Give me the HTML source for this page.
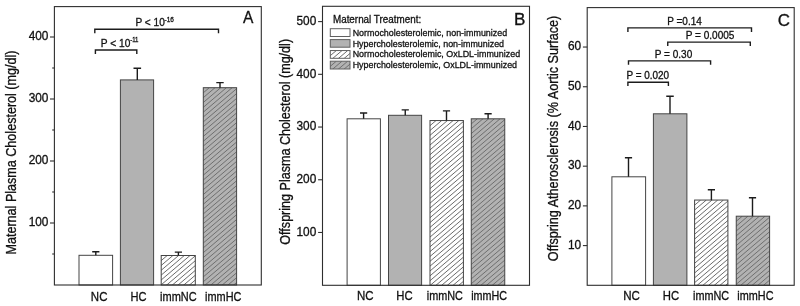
<!DOCTYPE html>
<html lang="en"><head><meta charset="utf-8"><title>Figure</title>
<style>html,body{margin:0;padding:0;background:#fff}svg{display:block}text{stroke:#111;stroke-width:.3px}</style></head>
<body>
<svg width="800" height="306" viewBox="0 0 800 306" font-family="'Liberation Sans', sans-serif" fill="#111">
<rect width="800" height="306" fill="#fff"/>
<g transform="translate(0,0.3)">
<rect x="79.00" y="255.00" width="33.60" height="29.70" fill="#fff" stroke="#444" stroke-width="1"/>
<rect x="120.40" y="79.60" width="33.20" height="205.10" fill="#b2b2b2" stroke="#444" stroke-width="1"/>
<rect x="161.20" y="255.20" width="34.10" height="29.50" fill="#fff"/>
<clipPath id="c1"><rect x="161.20" y="255.20" width="34.10" height="29.50"/></clipPath>
<path clip-path="url(#c1)" d="M167.20 255.20L160.20 261.15M172.90 255.20L160.20 266.00M178.60 255.20L160.20 270.84M184.30 255.20L160.20 275.68M190.00 255.20L160.20 280.53M195.70 255.20L160.20 285.37M196.30 259.53L160.20 290.22M196.30 264.38L160.20 295.06M196.30 269.22L160.20 299.91M196.30 274.07L160.20 304.75M196.30 278.91L160.20 309.60M196.30 283.76L160.20 314.44" stroke="#5a5a5a" stroke-width="0.9" fill="none"/>
<rect x="161.20" y="255.20" width="34.10" height="29.50" fill="none" stroke="#444" stroke-width="1"/>
<rect x="203.30" y="87.40" width="33.30" height="197.30" fill="#b2b2b2"/>
<clipPath id="c2"><rect x="203.30" y="87.40" width="33.30" height="197.30"/></clipPath>
<path clip-path="url(#c2)" d="M209.30 87.40L202.30 93.35M215.00 87.40L202.30 98.19M220.70 87.40L202.30 103.04M226.40 87.40L202.30 107.88M232.10 87.40L202.30 112.73M237.60 87.57L202.30 117.57M237.60 92.41L202.30 122.42M237.60 97.26L202.30 127.26M237.60 102.10L202.30 132.11M237.60 106.95L202.30 136.95M237.60 111.79L202.30 141.80M237.60 116.64L202.30 146.64M237.60 121.48L202.30 151.49M237.60 126.33L202.30 156.33M237.60 131.17L202.30 161.18M237.60 136.02L202.30 166.02M237.60 140.86L202.30 170.87M237.60 145.71L202.30 175.71M237.60 150.55L202.30 180.56M237.60 155.40L202.30 185.40M237.60 160.24L202.30 190.25M237.60 165.09L202.30 195.09M237.60 169.93L202.30 199.94M237.60 174.78L202.30 204.78M237.60 179.62L202.30 209.63M237.60 184.47L202.30 214.47M237.60 189.31L202.30 219.32M237.60 194.16L202.30 224.16M237.60 199.00L202.30 229.01M237.60 203.85L202.30 233.85M237.60 208.69L202.30 238.70M237.60 213.54L202.30 243.54M237.60 218.38L202.30 248.39M237.60 223.23L202.30 253.23M237.60 228.07L202.30 258.08M237.60 232.92L202.30 262.92M237.60 237.76L202.30 267.77M237.60 242.61L202.30 272.61M237.60 247.45L202.30 277.46M237.60 252.30L202.30 282.30M237.60 257.14L202.30 287.15M237.60 261.99L202.30 291.99M237.60 266.83L202.30 296.84M237.60 271.68L202.30 301.68M237.60 276.52L202.30 306.53M237.60 281.37L202.30 311.37" stroke="#686868" stroke-width="0.9" fill="none"/>
<rect x="203.30" y="87.40" width="33.30" height="197.30" fill="none" stroke="#444" stroke-width="1"/>
<path d="M95.80 255.00V251.40M92.20 251.40H99.40" stroke="#1c1c1c" stroke-width="1.4" fill="none"/>
<path d="M137.30 79.60V68.00M133.50 68.00H141.10" stroke="#1c1c1c" stroke-width="1.4" fill="none"/>
<path d="M178.40 255.20V251.80M174.80 251.80H182.00" stroke="#1c1c1c" stroke-width="1.4" fill="none"/>
<path d="M220.00 87.40V82.30M216.30 82.30H223.70" stroke="#1c1c1c" stroke-width="1.4" fill="none"/>
<rect x="54.4" y="6.3" width="206.90" height="278.40" fill="none" stroke="#2e2e2e" stroke-width="1.1"/>
<path d="M50.00 222.70H54.40" stroke="#2e2e2e" stroke-width="1.1"/>
<text x="28.68" y="226.00" font-size="12.1" textLength="19.78" lengthAdjust="spacingAndGlyphs">100</text>
<path d="M50.00 160.70H54.40" stroke="#2e2e2e" stroke-width="1.1"/>
<text x="28.68" y="164.00" font-size="12.1" textLength="19.78" lengthAdjust="spacingAndGlyphs">200</text>
<path d="M50.00 98.70H54.40" stroke="#2e2e2e" stroke-width="1.1"/>
<text x="28.68" y="102.00" font-size="12.1" textLength="19.78" lengthAdjust="spacingAndGlyphs">300</text>
<path d="M50.00 36.70H54.40" stroke="#2e2e2e" stroke-width="1.1"/>
<text x="28.68" y="40.00" font-size="12.1" textLength="19.78" lengthAdjust="spacingAndGlyphs">400</text>
<path d="M52.20 253.70H54.40" stroke="#2e2e2e" stroke-width="1.1"/>
<path d="M52.20 191.70H54.40" stroke="#2e2e2e" stroke-width="1.1"/>
<path d="M52.20 129.70H54.40" stroke="#2e2e2e" stroke-width="1.1"/>
<path d="M52.20 67.70H54.40" stroke="#2e2e2e" stroke-width="1.1"/>
<text transform="translate(15.50,253.20) rotate(-90)" x="-1.03" y="0" font-size="14" textLength="204.01" lengthAdjust="spacingAndGlyphs">Maternal Plasma Cholesterol (mg/dl)</text>
<path d="M94.80 33.00V29.00H218.50V33.00" stroke="#1c1c1c" stroke-width="1.4" fill="none"/>
<path d="M95.40 53.80V49.70H136.80V53.80" stroke="#1c1c1c" stroke-width="1.4" fill="none"/>
<text x="135.47" y="25.30" font-size="10.5" textLength="29.32" lengthAdjust="spacingAndGlyphs">P &lt; 10</text>
<text x="164.61" y="21.90" font-size="7.6" textLength="9.37" lengthAdjust="spacingAndGlyphs">-16</text>
<text x="100.87" y="46.50" font-size="10.5" textLength="29.53" lengthAdjust="spacingAndGlyphs">P &lt; 10</text>
<text x="130.13" y="42.20" font-size="7.6" textLength="8.37" lengthAdjust="spacingAndGlyphs">-11</text>
<text x="243.07" y="23.10" font-size="16" textLength="10.36" lengthAdjust="spacingAndGlyphs">A</text>
<text x="90.86" y="300.40" font-size="12" textLength="16.58" lengthAdjust="spacingAndGlyphs">NC</text>
<text x="130.39" y="300.40" font-size="12" textLength="16.04" lengthAdjust="spacingAndGlyphs">HC</text>
<text x="160.07" y="300.40" font-size="12" textLength="36.56" lengthAdjust="spacingAndGlyphs">immNC</text>
<text x="205.07" y="300.40" font-size="12" textLength="36.35" lengthAdjust="spacingAndGlyphs">immHC</text>
<rect x="347.10" y="118.50" width="33.30" height="166.50" fill="#fff" stroke="#444" stroke-width="1"/>
<rect x="388.50" y="115.00" width="33.10" height="170.00" fill="#b2b2b2" stroke="#444" stroke-width="1"/>
<rect x="430.00" y="120.25" width="33.40" height="164.75" fill="#fff"/>
<clipPath id="c3"><rect x="430.00" y="120.25" width="33.40" height="164.75"/></clipPath>
<path clip-path="url(#c3)" d="M436.00 120.25L429.00 126.20M441.70 120.25L429.00 131.04M447.40 120.25L429.00 135.89M453.10 120.25L429.00 140.73M458.80 120.25L429.00 145.58M464.40 120.33L429.00 150.42M464.40 125.18L429.00 155.27M464.40 130.02L429.00 160.11M464.40 134.87L429.00 164.96M464.40 139.71L429.00 169.80M464.40 144.56L429.00 174.65M464.40 149.40L429.00 179.49M464.40 154.25L429.00 184.34M464.40 159.09L429.00 189.18M464.40 163.94L429.00 194.03M464.40 168.78L429.00 198.87M464.40 173.63L429.00 203.72M464.40 178.47L429.00 208.56M464.40 183.32L429.00 213.41M464.40 188.17L429.00 218.26M464.40 193.01L429.00 223.10M464.40 197.86L429.00 227.95M464.40 202.70L429.00 232.79M464.40 207.55L429.00 237.64M464.40 212.39L429.00 242.48M464.40 217.24L429.00 247.33M464.40 222.08L429.00 252.17M464.40 226.93L429.00 257.02M464.40 231.77L429.00 261.86M464.40 236.62L429.00 266.71M464.40 241.46L429.00 271.55M464.40 246.31L429.00 276.40M464.40 251.15L429.00 281.24M464.40 256.00L429.00 286.09M464.40 260.84L429.00 290.93M464.40 265.69L429.00 295.78M464.40 270.53L429.00 300.62M464.40 275.38L429.00 305.47M464.40 280.22L429.00 310.31" stroke="#5a5a5a" stroke-width="0.9" fill="none"/>
<rect x="430.00" y="120.25" width="33.40" height="164.75" fill="none" stroke="#444" stroke-width="1"/>
<rect x="471.25" y="118.50" width="33.50" height="166.50" fill="#b2b2b2"/>
<clipPath id="c4"><rect x="471.25" y="118.50" width="33.50" height="166.50"/></clipPath>
<path clip-path="url(#c4)" d="M477.25 118.50L470.25 124.45M482.95 118.50L470.25 129.29M488.65 118.50L470.25 134.14M494.35 118.50L470.25 138.98M500.05 118.50L470.25 143.83M505.75 118.50L470.25 148.67M505.75 123.34L470.25 153.52M505.75 128.19L470.25 158.36M505.75 133.04L470.25 163.21M505.75 137.88L470.25 168.06M505.75 142.73L470.25 172.90M505.75 147.57L470.25 177.75M505.75 152.42L470.25 182.59M505.75 157.26L470.25 187.44M505.75 162.11L470.25 192.28M505.75 166.95L470.25 197.13M505.75 171.80L470.25 201.97M505.75 176.64L470.25 206.82M505.75 181.49L470.25 211.66M505.75 186.33L470.25 216.51M505.75 191.18L470.25 221.35M505.75 196.02L470.25 226.20M505.75 200.87L470.25 231.04M505.75 205.71L470.25 235.89M505.75 210.56L470.25 240.73M505.75 215.40L470.25 245.58M505.75 220.25L470.25 250.42M505.75 225.09L470.25 255.27M505.75 229.94L470.25 260.11M505.75 234.78L470.25 264.96M505.75 239.63L470.25 269.80M505.75 244.47L470.25 274.65M505.75 249.32L470.25 279.49M505.75 254.16L470.25 284.34M505.75 259.01L470.25 289.18M505.75 263.85L470.25 294.03M505.75 268.70L470.25 298.87M505.75 273.54L470.25 303.72M505.75 278.39L470.25 308.56M505.75 283.23L470.25 313.41" stroke="#686868" stroke-width="0.9" fill="none"/>
<rect x="471.25" y="118.50" width="33.50" height="166.50" fill="none" stroke="#444" stroke-width="1"/>
<path d="M363.60 118.50V112.75M360.00 112.75H367.20" stroke="#1c1c1c" stroke-width="1.4" fill="none"/>
<path d="M405.25 115.00V109.60M401.65 109.60H408.85" stroke="#1c1c1c" stroke-width="1.4" fill="none"/>
<path d="M446.50 120.25V110.60M442.90 110.60H450.10" stroke="#1c1c1c" stroke-width="1.4" fill="none"/>
<path d="M488.10 118.50V113.40M484.50 113.40H491.70" stroke="#1c1c1c" stroke-width="1.4" fill="none"/>
<rect x="322.5" y="6.0" width="207.00" height="279.00" fill="none" stroke="#2e2e2e" stroke-width="1.1"/>
<path d="M318.10 232.18H322.50" stroke="#2e2e2e" stroke-width="1.1"/>
<text x="296.48" y="235.48" font-size="12.1" textLength="19.78" lengthAdjust="spacingAndGlyphs">100</text>
<path d="M318.10 179.46H322.50" stroke="#2e2e2e" stroke-width="1.1"/>
<text x="296.48" y="182.76" font-size="12.1" textLength="19.78" lengthAdjust="spacingAndGlyphs">200</text>
<path d="M318.10 126.74H322.50" stroke="#2e2e2e" stroke-width="1.1"/>
<text x="296.48" y="130.04" font-size="12.1" textLength="19.78" lengthAdjust="spacingAndGlyphs">300</text>
<path d="M318.10 74.02H322.50" stroke="#2e2e2e" stroke-width="1.1"/>
<text x="296.48" y="77.32" font-size="12.1" textLength="19.78" lengthAdjust="spacingAndGlyphs">400</text>
<path d="M318.10 21.30H322.50" stroke="#2e2e2e" stroke-width="1.1"/>
<text x="296.48" y="24.60" font-size="12.1" textLength="19.78" lengthAdjust="spacingAndGlyphs">500</text>
<text transform="translate(289.50,243.80) rotate(-90)" x="-0.59" y="0" font-size="14" textLength="205.76" lengthAdjust="spacingAndGlyphs">Offspring Plasma Cholesterol (mg/dl)</text>
<text x="332.94" y="23.00" font-size="10.6" textLength="88.21" lengthAdjust="spacingAndGlyphs">Maternal Treatment:</text>
<rect x="330.30" y="28.40" width="19.70" height="7.80" fill="#fff" stroke="#606060" stroke-width="1"/>
<rect x="330.30" y="39.30" width="19.70" height="7.60" fill="#b2b2b2" stroke="#606060" stroke-width="1"/>
<rect x="330.30" y="50.25" width="19.70" height="7.75" fill="#fff"/>
<clipPath id="c5"><rect x="330.30" y="50.25" width="19.70" height="7.75"/></clipPath>
<path clip-path="url(#c5)" d="M336.30 50.25L329.30 56.20M342.00 50.25L329.30 61.04M347.70 50.25L329.30 65.89M351.00 52.29L329.30 70.73M351.00 57.13L329.30 75.58" stroke="#5a5a5a" stroke-width="0.9" fill="none"/>
<rect x="330.30" y="50.25" width="19.70" height="7.75" fill="none" stroke="#606060" stroke-width="1"/>
<rect x="330.30" y="60.90" width="19.70" height="7.80" fill="#b2b2b2"/>
<clipPath id="c6"><rect x="330.30" y="60.90" width="19.70" height="7.80"/></clipPath>
<path clip-path="url(#c6)" d="M336.30 60.90L329.30 66.85M342.00 60.90L329.30 71.69M347.70 60.90L329.30 76.54M351.00 62.94L329.30 81.38M351.00 67.78L329.30 86.23" stroke="#686868" stroke-width="0.9" fill="none"/>
<rect x="330.30" y="60.90" width="19.70" height="7.80" fill="none" stroke="#606060" stroke-width="1"/>
<text x="352.67" y="35.30" font-size="9.4" textLength="154.50" lengthAdjust="spacingAndGlyphs">Normocholesterolemic, non-immunized</text>
<text x="352.67" y="46.25" font-size="9.4" textLength="151.40" lengthAdjust="spacingAndGlyphs">Hypercholesterolemic, non-immunized</text>
<text x="352.67" y="57.10" font-size="9.4" textLength="167.50" lengthAdjust="spacingAndGlyphs">Normocholesterolemic, OxLDL-immunized</text>
<text x="352.67" y="67.90" font-size="9.4" textLength="164.40" lengthAdjust="spacingAndGlyphs">Hypercholesterolemic, OxLDL-immunized</text>
<text x="513.90" y="24.30" font-size="16" textLength="11.41" lengthAdjust="spacingAndGlyphs">B</text>
<text x="356.96" y="300.00" font-size="12" textLength="16.58" lengthAdjust="spacingAndGlyphs">NC</text>
<text x="396.32" y="300.00" font-size="12" textLength="16.36" lengthAdjust="spacingAndGlyphs">HC</text>
<text x="426.77" y="300.00" font-size="12" textLength="36.14" lengthAdjust="spacingAndGlyphs">immNC</text>
<text x="471.18" y="300.00" font-size="12" textLength="35.83" lengthAdjust="spacingAndGlyphs">immHC</text>
<rect x="611.90" y="176.50" width="33.70" height="108.50" fill="#fff" stroke="#444" stroke-width="1"/>
<rect x="653.40" y="113.50" width="33.50" height="171.50" fill="#b2b2b2" stroke="#444" stroke-width="1"/>
<rect x="694.60" y="199.75" width="33.30" height="85.25" fill="#fff"/>
<clipPath id="c7"><rect x="694.60" y="199.75" width="33.30" height="85.25"/></clipPath>
<path clip-path="url(#c7)" d="M700.60 199.75L693.60 205.70M706.30 199.75L693.60 210.55M712.00 199.75L693.60 215.39M717.70 199.75L693.60 220.24M723.40 199.75L693.60 225.08M728.90 199.92L693.60 229.93M728.90 204.77L693.60 234.77M728.90 209.61L693.60 239.62M728.90 214.46L693.60 244.46M728.90 219.30L693.60 249.31M728.90 224.15L693.60 254.15M728.90 228.99L693.60 259.00M728.90 233.84L693.60 263.84M728.90 238.68L693.60 268.69M728.90 243.53L693.60 273.53M728.90 248.37L693.60 278.38M728.90 253.22L693.60 283.22M728.90 258.06L693.60 288.07M728.90 262.91L693.60 292.91M728.90 267.75L693.60 297.76M728.90 272.60L693.60 302.60M728.90 277.44L693.60 307.45M728.90 282.29L693.60 312.29" stroke="#5a5a5a" stroke-width="0.9" fill="none"/>
<rect x="694.60" y="199.75" width="33.30" height="85.25" fill="none" stroke="#444" stroke-width="1"/>
<rect x="736.25" y="215.90" width="33.35" height="69.10" fill="#b2b2b2"/>
<clipPath id="c8"><rect x="736.25" y="215.90" width="33.35" height="69.10"/></clipPath>
<path clip-path="url(#c8)" d="M742.25 215.90L735.25 221.85M747.95 215.90L735.25 226.70M753.65 215.90L735.25 231.54M759.35 215.90L735.25 236.39M765.05 215.90L735.25 241.23M770.60 216.03L735.25 246.08M770.60 220.87L735.25 250.92M770.60 225.72L735.25 255.77M770.60 230.56L735.25 260.61M770.60 235.41L735.25 265.46M770.60 240.25L735.25 270.30M770.60 245.10L735.25 275.15M770.60 249.94L735.25 279.99M770.60 254.79L735.25 284.84M770.60 259.63L735.25 289.68M770.60 264.48L735.25 294.53M770.60 269.32L735.25 299.37M770.60 274.17L735.25 304.22M770.60 279.01L735.25 309.06M770.60 283.86L735.25 313.91" stroke="#686868" stroke-width="0.9" fill="none"/>
<rect x="736.25" y="215.90" width="33.35" height="69.10" fill="none" stroke="#444" stroke-width="1"/>
<path d="M628.50 176.50V157.50M624.90 157.50H632.10" stroke="#1c1c1c" stroke-width="1.4" fill="none"/>
<path d="M670.00 113.50V95.90M666.25 95.90H673.75" stroke="#1c1c1c" stroke-width="1.4" fill="none"/>
<path d="M711.40 199.75V189.40M707.80 189.40H715.00" stroke="#1c1c1c" stroke-width="1.4" fill="none"/>
<path d="M752.50 215.90V197.50M748.90 197.50H756.10" stroke="#1c1c1c" stroke-width="1.4" fill="none"/>
<rect x="587.2" y="7.3" width="207.00" height="277.70" fill="none" stroke="#2e2e2e" stroke-width="1.1"/>
<path d="M582.90 245.29H587.20" stroke="#2e2e2e" stroke-width="1.1"/>
<text x="567.88" y="248.59" font-size="12.1" textLength="13.19" lengthAdjust="spacingAndGlyphs">10</text>
<path d="M582.90 205.58H587.20" stroke="#2e2e2e" stroke-width="1.1"/>
<text x="567.88" y="208.88" font-size="12.1" textLength="13.19" lengthAdjust="spacingAndGlyphs">20</text>
<path d="M582.90 165.87H587.20" stroke="#2e2e2e" stroke-width="1.1"/>
<text x="567.88" y="169.17" font-size="12.1" textLength="13.19" lengthAdjust="spacingAndGlyphs">30</text>
<path d="M582.90 126.16H587.20" stroke="#2e2e2e" stroke-width="1.1"/>
<text x="567.88" y="129.46" font-size="12.1" textLength="13.19" lengthAdjust="spacingAndGlyphs">40</text>
<path d="M582.90 86.45H587.20" stroke="#2e2e2e" stroke-width="1.1"/>
<text x="567.88" y="89.75" font-size="12.1" textLength="13.19" lengthAdjust="spacingAndGlyphs">50</text>
<path d="M582.90 46.74H587.20" stroke="#2e2e2e" stroke-width="1.1"/>
<text x="567.88" y="50.04" font-size="12.1" textLength="13.19" lengthAdjust="spacingAndGlyphs">60</text>
<text transform="translate(557.70,260.30) rotate(-90)" x="-0.59" y="0" font-size="14" textLength="245.47" lengthAdjust="spacingAndGlyphs">Offspring Atherosclerosis (% Aortic Surface)</text>
<path d="M627.90 31.75V27.60H751.50V31.75" stroke="#1c1c1c" stroke-width="1.4" fill="none"/>
<path d="M667.75 45.60V41.80H750.30V45.60" stroke="#1c1c1c" stroke-width="1.4" fill="none"/>
<path d="M628.50 64.50V60.60H710.60V64.50" stroke="#1c1c1c" stroke-width="1.4" fill="none"/>
<path d="M627.90 85.60V81.90H668.40V85.60" stroke="#1c1c1c" stroke-width="1.4" fill="none"/>
<text x="667.28" y="24.50" font-size="10.5" textLength="34.51" lengthAdjust="spacingAndGlyphs">P =0.14</text>
<text x="685.68" y="38.80" font-size="10.5" textLength="48.75" lengthAdjust="spacingAndGlyphs">P = 0.0005</text>
<text x="654.78" y="57.50" font-size="10.5" textLength="37.51" lengthAdjust="spacingAndGlyphs">P = 0.30</text>
<text x="626.43" y="78.75" font-size="10.5" textLength="42.70" lengthAdjust="spacingAndGlyphs">P = 0.020</text>
<text x="777.84" y="25.30" font-size="16" textLength="12.21" lengthAdjust="spacingAndGlyphs">C</text>
<text x="623.15" y="299.70" font-size="12" textLength="16.69" lengthAdjust="spacingAndGlyphs">NC</text>
<text x="662.82" y="299.70" font-size="12" textLength="16.36" lengthAdjust="spacingAndGlyphs">HC</text>
<text x="693.02" y="299.70" font-size="12" textLength="36.14" lengthAdjust="spacingAndGlyphs">immNC</text>
<text x="737.37" y="299.70" font-size="12" textLength="36.14" lengthAdjust="spacingAndGlyphs">immHC</text>
</g>
</svg>
</body></html>
